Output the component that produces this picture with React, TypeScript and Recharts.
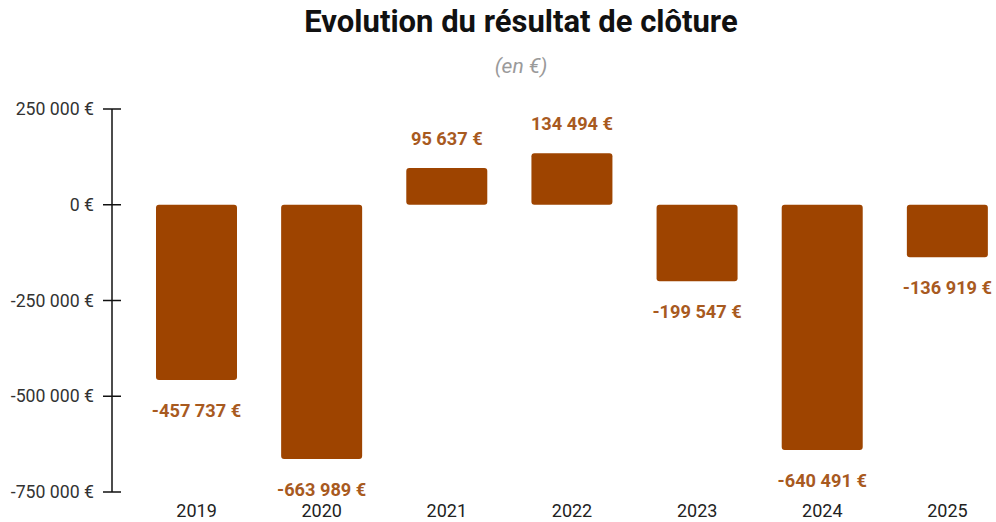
import React from "react";
import { BarChart, Bar, XAxis, YAxis, LabelList } from "recharts";

const years = ["2019", "2020", "2021", "2022", "2023", "2024", "2025"];
const results = [-457737, -663989, 95637, 134494, -199547, -640491, -136919];
const yTicks = [250000, 0, -250000, -500000, -750000];

const data = years.map((y, i) => ({ year: y, value: results[i] }));

const fmt = (v: number) => {
  const s = Math.abs(Math.round(v)).toString().replace(/\B(?=(\d{3})+(?!\d))/g, " ");
  return (v < 0 ? "-" : "") + s + " €";
};

const YTick = (props: any) => {
  const { x, y, payload } = props;
  return (
    <g>
      <line x1={x - 9} x2={x + 9} y1={y} y2={y} stroke="#111" strokeWidth={1.5} />
      <text x={x - 18} y={y} dy="0.35em" textAnchor="end" fontSize={17.7} fill="#333" fontFamily="Roboto">
        {fmt(payload.value)}
      </text>
    </g>
  );
};

const BarLabel = (props: any) => {
  const { x, y, width, height, value } = props;
  const top = Math.min(y, y + height);
  const bottom = Math.max(y, y + height);
  const cx = x + width / 2;
  const ty = value >= 0 ? top - 23 : bottom + 37;
  return (
    <text x={cx} y={ty} textAnchor="middle" fontSize={18.2} fontWeight={700} fill="#A85A1F" fontFamily="Roboto">
      {fmt(value)}
    </text>
  );
};

export default function App() {
  return (
    <div style={{ position: "absolute", left: 0, top: 0, width: 996, height: 522, overflow: "hidden", background: "#fff", fontFamily: "Roboto" }}>
      <div style={{ position: "relative", width: 1042, height: 522 }}>
        <div style={{ position: "absolute", left: 0, width: 1042, top: 1, textAlign: "center", fontSize: 31, fontWeight: 700, color: "#111", lineHeight: "42px" }}>
          Evolution du résultat de clôture
        </div>
        <div style={{ position: "absolute", left: 0, width: 1042, top: 52, textAlign: "center", fontSize: 21, fontStyle: "italic", color: "#9a9a9a", lineHeight: "28px" }}>
          (en €)
        </div>
        <div style={{ position: "absolute", left: 0, top: 0 }}>
          <BarChart width={1042} height={522} data={data} margin={{ top: 109, right: 32, bottom: 0, left: 0 }}>
            <YAxis
              type="number"
              domain={[-750000, 250000]}
              ticks={yTicks}
              width={112}
              tickSize={0}
              tickMargin={0}
              tickLine={false}
              axisLine={{ stroke: "#111", strokeWidth: 1.5 }}
              tick={<YTick />}
              interval={0}
            />
            <XAxis
              dataKey="year"
              height={30}
              axisLine={false}
              tickLine={false}
              tickSize={0}
              tickMargin={12}
              padding={{ left: 22, right: 0 }}
              tick={{ fontSize: 18, fill: "#222", fontFamily: "Roboto" }}
              interval={0}
            />
            <Bar dataKey="value" fill="#9E4400" barSize={81} radius={3} isAnimationActive={false}>
              <LabelList dataKey="value" content={<BarLabel />} />
            </Bar>
          </BarChart>
        </div>
      </div>
    </div>
  );
}
